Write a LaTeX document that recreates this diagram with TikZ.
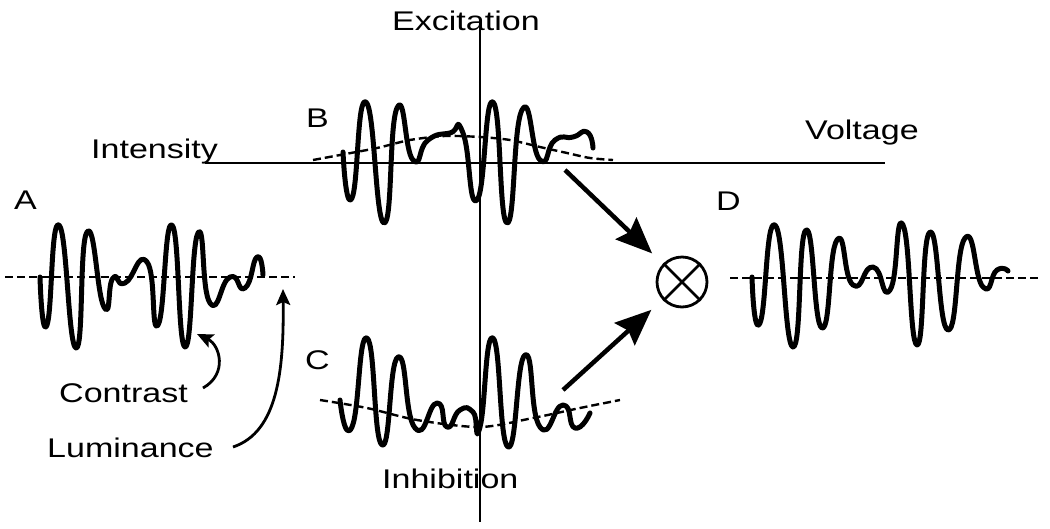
\documentclass[tikz,border=0pt]{standalone}
\usepackage{fontspec}
\setmainfont{Liberation Sans}
\usepackage{graphicx}
\usetikzlibrary{arrows.meta}
\newcommand{\sx}[1]{\scalebox{1.26}[1]{#1}}
\begin{document}
\begin{tikzpicture}[x=1pt,y=-1pt,
  axis/.style={line width=1.6pt},
  wave/.style={line width=5pt, line join=round, line cap=round},
  base/.style={line width=2.4pt, dash pattern=on 8pt off 4pt},
  lbl/.style={inner sep=0pt, anchor=base west, font=\fontsize{27}{30}\selectfont},
  bigarrow/.style={line width=4.5pt, -{Stealth[length=36pt,width=30pt,inset=5pt]}},
  smallarrow/.style={line width=2.8pt, -{Stealth[length=16pt,width=14pt,inset=3pt]}}]
\useasboundingbox (0,0) rectangle (1050,528);

% axes
\coordinate (vtop) at (480,22);
\coordinate (vbot) at (480,522);
\coordinate (hl) at (205,163);
\coordinate (hr) at (885,163);
\draw[axis] (vtop) -- (vbot);
\draw[axis] (hl) -- (hr);

% labels
\node[lbl] (exc) at (392,30) {\sx{Excitation}};
\node[lbl] (int) at (91,158) {\sx{Intensity}};
\node[lbl] (vol) at (805,139) {\sx{Voltage}};
\node[lbl] (inh) at (382,488) {\sx{Inhibition}};
\node[lbl] (la) at (14,209) {\sx{A}};
\node[lbl] (lb) at (306,127) {\sx{B}};
\node[lbl] (lc) at (305,369) {\sx{C}};
\node[lbl] (ld) at (716,210) {\sx{D}};
\node[lbl] (con) at (59,402) {\sx{Contrast}};
\node[lbl] (lum) at (47,457) {\sx{Luminance}};

% signal A
\draw[base] (5,277) -- (295,277);
\draw[wave] plot[smooth, tension=1] coordinates {(40,277) (47,325) (59,225) (76,348) (87,232) (104,307) (113,278) (125,283) (147,262) (158,325) (172,225) (185,347) (198,233) (210,303) (230,277) (245,288) (257,257) (263,275)};

% signal B
\draw[base] plot[smooth] coordinates {(313,160) (340,155) (377,148) (410,140) (445,136) (480,137) (510,140) (540,147) (567,153) (590,158) (613,160)};
\draw[wave] plot[smooth, tension=1] coordinates {(343,152) (352,198) (366,102) (384,223) (397,108) (413,160) (428,140) (450,133) (463,133) (477,200) (493,102) (507,223) (522,110) (540,160) (555,140) (573,137) (587,132) (593,148)};

% signal C
\draw[base] plot[smooth] coordinates {(320,400) (367,408) (417,420) (480,427) (533,418) (580,408) (620,400)};
\draw[wave] plot[smooth, tension=1] coordinates {(340,400) (352,427) (367,338) (382,445) (398,357) (415,428) (437,403) (447,427) (460,410) (473,412) (480,427) (493,338) (508,447) (525,355) (540,427) (563,405) (575,428) (590,413)};

% signal D
\draw[base] (730,278) -- (1040,278);
\draw[wave] plot[smooth, tension=1] coordinates {(752,277) (760,323) (775,225) (793,347) (806,230) (822,328) (837,240) (853,285) (873,267) (890,290) (903,225) (917,345) (930,232) (948,330) (965,238) (983,287) (997,270) (1008,271)};

% multiplier
\node[circle, draw, line width=2.8pt, minimum size=50pt, inner sep=0pt] (mult) at (682,282) {};
\draw[line width=2.8pt] (mult.north west) -- (mult.south east);
\draw[line width=2.8pt] (mult.north east) -- (mult.south west);

% arrows to multiplier
\coordinate (bout) at (565,170);
\coordinate (cout) at (563,390);
\draw[bigarrow, shorten >=15pt] (bout) -- (mult);
\draw[bigarrow, shorten >=15pt] (cout) -- (mult);

% contrast / luminance pointers
\coordinate (cstart) at (203,388);
\coordinate (ctip) at (197,334);
\coordinate (lstart) at (233,447);
\coordinate (ltip) at (283,289);
\draw[smallarrow] (cstart) .. controls (228,374) and (220,345) .. (ctip);
\draw[smallarrow] (lstart) .. controls (278,432) and (284,370) .. (ltip);
\end{tikzpicture}
\end{document}
